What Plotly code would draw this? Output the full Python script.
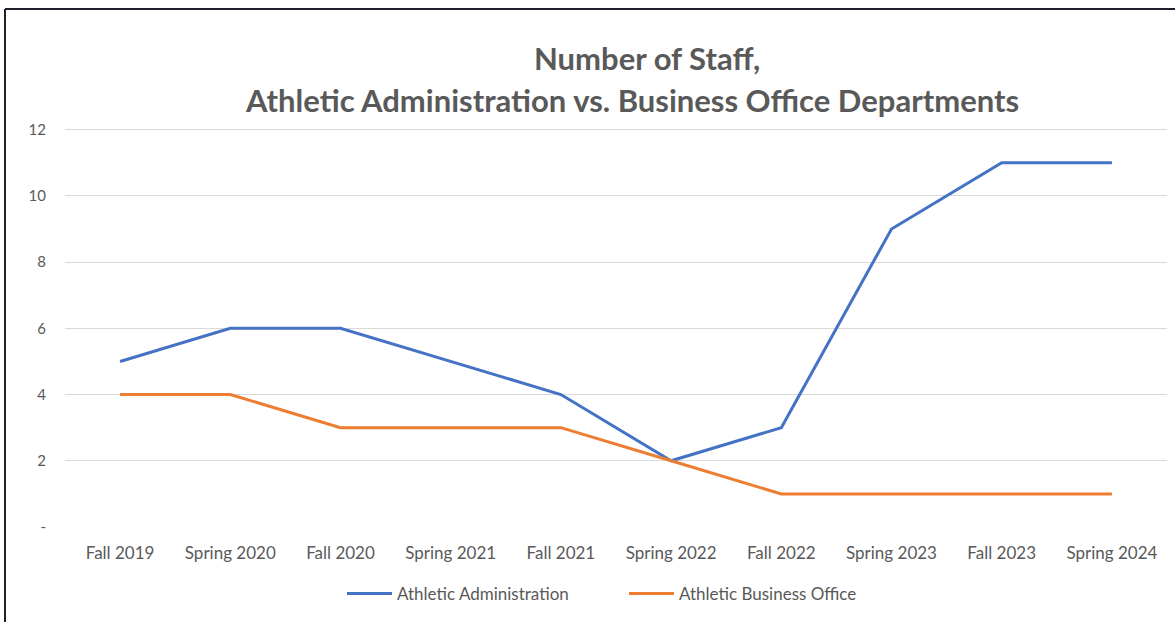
import plotly.graph_objects as go

terms = ["Fall 2019", "Spring 2020", "Fall 2020", "Spring 2021", "Fall 2021",
         "Spring 2022", "Fall 2022", "Spring 2023", "Fall 2023", "Spring 2024"]
athletic_admin = [5, 6, 6, 5, 4, 2, 3, 9, 11, 11]
business_office = [4, 4, 3, 3, 3, 2, 1, 1, 1, 1]
y_ticks = [0, 2, 4, 6, 8, 10, 12]
y_tick_labels = ["-", "2", "4", "6", "8", "10", "12"]

FONT = "Lato"
GRAY = "#595959"

fig = go.Figure()
fig.add_trace(go.Scatter(x=terms, y=athletic_admin, mode="lines",
                         name="Athletic Administration",
                         line=dict(color="#4472C4", width=3)))
fig.add_trace(go.Scatter(x=terms, y=business_office, mode="lines",
                         name="Athletic Business Office",
                         line=dict(color="#ED7D31", width=3)))

L, R, T, B = 65, 8, 128, 95
W, H = 1175, 622
pw, ph = W - L - R, H - T - B

def px_x(p):
    return (p - L) / pw

def px_y(p):
    return (H - B - p) / ph

fig.update_layout(
    width=W, height=H,
    margin=dict(l=L, r=R, t=T, b=B),
    paper_bgcolor="white", plot_bgcolor="white",
    font=dict(family=FONT, color=GRAY, size=14),
    showlegend=True,
    legend=dict(orientation="h", x=px_x(342), xanchor="left", y=px_y(594), yanchor="middle",
                font=dict(size=17, color=GRAY), itemwidth=45, traceorder="normal",
                entrywidth=222, entrywidthmode="pixels"),
    xaxis=dict(type="category", range=[-0.5, 9.5], showgrid=False, zeroline=False,
               showline=False, ticks="", tickfont=dict(size=17, color=GRAY),
               ticklabelstandoff=14),
    yaxis=dict(range=[0, 12.05], tickvals=y_ticks, ticktext=y_tick_labels,
               showgrid=True, gridcolor="#d9d9d9", gridwidth=1, zeroline=False,
               showline=False, ticks="", tickfont=dict(size=15, color=GRAY),
               ticklabelstandoff=18),
    annotations=[
        dict(text="<b>Number of Staff,</b>", x=px_x(647), y=px_y(58), xref="paper", yref="paper",
             xanchor="center", yanchor="middle", showarrow=False,
             font=dict(family=FONT, size=31, color=GRAY)),
        dict(text="<b>Athletic Administration vs. Business Office Departments</b>",
             x=px_x(632), y=px_y(100), xref="paper", yref="paper",
             xanchor="center", yanchor="middle", showarrow=False,
             font=dict(family=FONT, size=31, color=GRAY)),
    ],
    shapes=[
        dict(type="line", xref="paper", yref="paper", x0=px_x(5), x1=px_x(1185),
             y0=px_y(9), y1=px_y(9), line=dict(color="#1f1f2e", width=2)),
        dict(type="line", xref="paper", yref="paper", x0=px_x(5), x1=px_x(5),
             y0=px_y(9), y1=px_y(640), line=dict(color="#1f1f2e", width=2)),
    ],
)

fig.write_html("out.html")
